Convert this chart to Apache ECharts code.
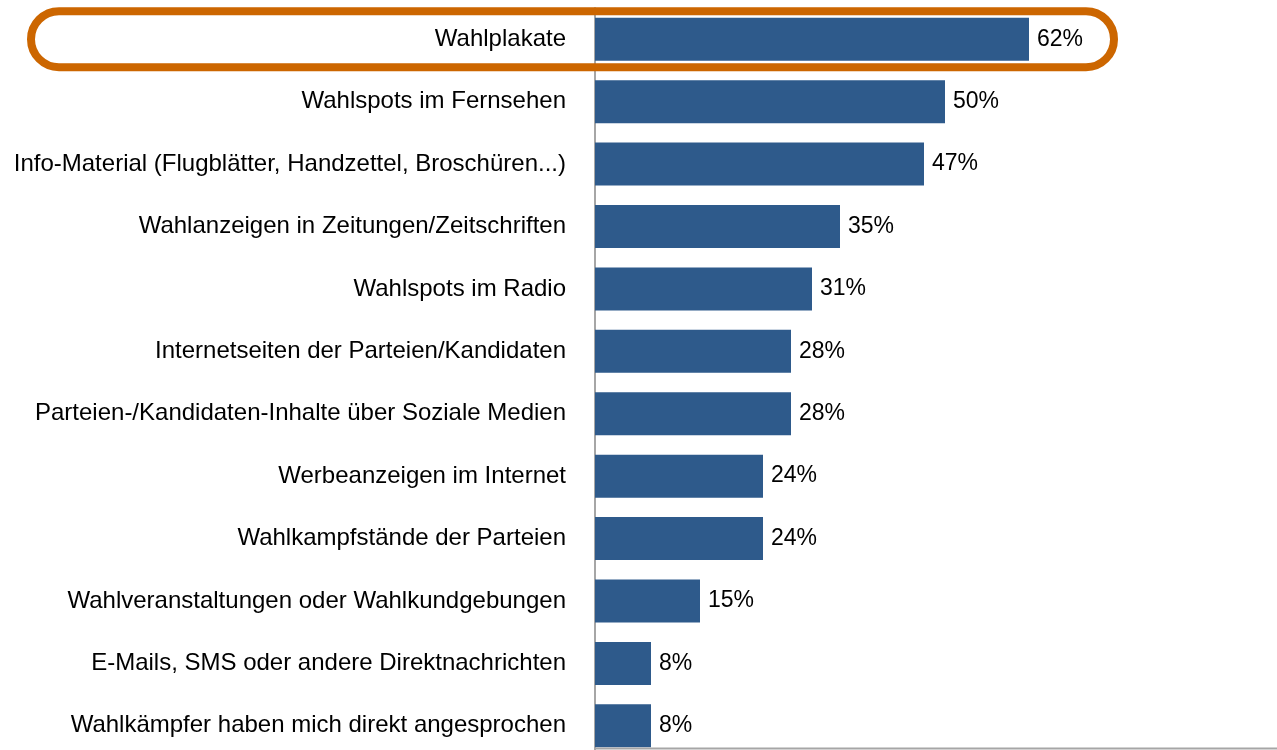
<!DOCTYPE html>
<html>
<head>
<meta charset="utf-8">
<script src="https://cdn.jsdelivr.net/npm/echarts@6/dist/echarts.min.js"></script>
<style>
  html, body { margin: 0; padding: 0; background: #fff; }
  #chart { width: 1277px; height: 750px; }
</style>
</head>
<body>
<div id="chart"></div>
<script>
const categories = [
  'Wahlplakate',
  'Wahlspots im Fernsehen',
  'Info-Material (Flugblätter, Handzettel, Broschüren...)',
  'Wahlanzeigen in Zeitungen/Zeitschriften',
  'Wahlspots im Radio',
  'Internetseiten der Parteien/Kandidaten',
  'Parteien-/Kandidaten-Inhalte über Soziale Medien',
  'Werbeanzeigen im Internet',
  'Wahlkampfstände der Parteien',
  'Wahlveranstaltungen oder Wahlkundgebungen',
  'E-Mails, SMS oder andere Direktnachrichten',
  'Wahlkämpfer haben mich direkt angesprochen'
];
const shares = [62, 50, 47, 35, 31, 28, 28, 24, 24, 15, 8, 8];
const highlighted = 'Wahlplakate';

const font = '"Liberation Sans", Arial, sans-serif';
const chart = echarts.init(document.getElementById('chart'));

chart.setOption({
  backgroundColor: '#ffffff',
  animation: false,
  grid: { left: 595, top: 8, width: 630, height: 749, outerBoundsMode: 'none' },
  xAxis: {
    type: 'value',
    min: 0,
    max: 90,
    show: false
  },
  yAxis: {
    type: 'category',
    inverse: true,
    data: categories,
    axisLine: { show: true, lineStyle: { color: '#a6a6a6', width: 2 } },
    axisTick: { show: false },
    axisLabel: {
      margin: 29,
      color: '#000000',
      fontSize: 24,
      fontFamily: font
    }
  },
  series: [{
    type: 'bar',
    data: shares,
    barWidth: 43,
    itemStyle: { color: '#2e5a8b' },
    label: {
      show: true,
      position: 'right',
      distance: 8,
      formatter: '{c}%',
      color: '#000000',
      fontSize: 23,
      fontFamily: font
    }
  }]
});

// orange frame round the highlighted row, plus the bottom rule
const cy = chart.convertToPixel({ yAxisIndex: 0 }, highlighted);
chart.setOption({
  graphic: [
    {
      type: 'rect',
      shape: { x: 31, y: cy - 28, width: 1083, height: 56, r: 28 },
      style: { fill: null, stroke: '#cc6600', lineWidth: 8 },
      z: 10
    },
    {
      type: 'line',
      shape: { x1: 594, y1: 748.5, x2: 1277, y2: 748.5 },
      style: { stroke: '#a6a6a6', lineWidth: 2 },
      z: 10
    }
  ]
});
</script>
</body>
</html>
